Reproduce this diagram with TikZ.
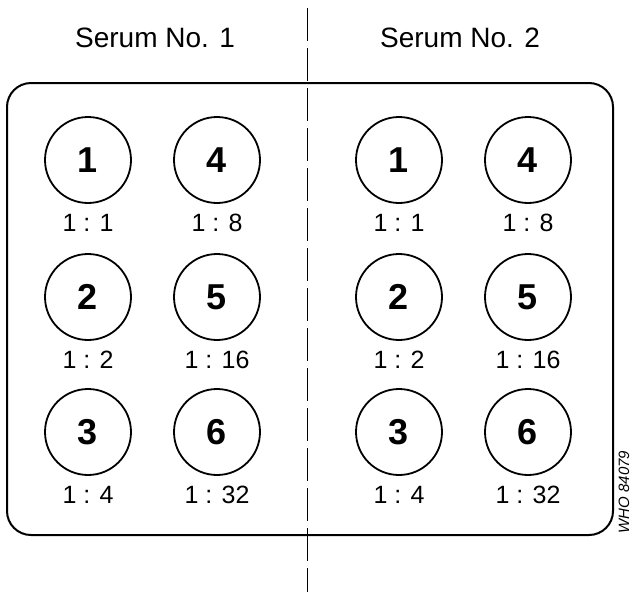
\documentclass[tikz,border=0pt]{standalone}
\usepackage{fontspec}
\setmainfont{Liberation Sans}
\usepackage{tikz}
\usetikzlibrary{positioning}

\begin{document}
\begin{tikzpicture}[x=1pt,y=-1pt,
  well/.style={draw,circle,line width=1.8pt,minimum size=86pt,inner sep=0pt,
    font=\bfseries\fontsize{36}{36}\selectfont},
  titer/.style={font=\fontsize{25}{25}\selectfont,text height=18pt,text depth=0pt},
  heading/.style={font=\fontsize{28}{28}\selectfont}]
  \useasboundingbox (0,0) rectangle (631,592);
  % Plate outline
  \draw[line width=2pt,rounded corners=24pt] (7,83) rectangle (613,535);
  % Divider between the two sera
  \coordinate (divtop) at (307,8);
  \coordinate (divbot) at (307,592);
  \draw[line width=1pt,dash pattern=on 33pt off 7pt] (divtop) -- (divbot);
  % Headings
  \node[heading] (serum1) at (155,38) {Serum No. 1};
  \node[heading] (serum2) at (460,38) {Serum No. 2};
  % Wells and dilutions
  \foreach \s/\x in {1/88,2/399} {
    \foreach \n/\c/\r/\t in {1/0/160/1,2/0/297/2,3/0/432/4,4/129/160/8,5/129/297/16,6/129/432/32} {
      \node[well] (s\s w\n) at (\x+\c,\r) {\n};
      \node[titer,below=6pt of s\s w\n] (s\s t\n) {1 : \t};
    }
  }
  % Figure code
  \node[rotate=90,font=\itshape\fontsize{15}{15}\selectfont] (code) at (624,492) {WHO 84079};
\end{tikzpicture}
\end{document}
